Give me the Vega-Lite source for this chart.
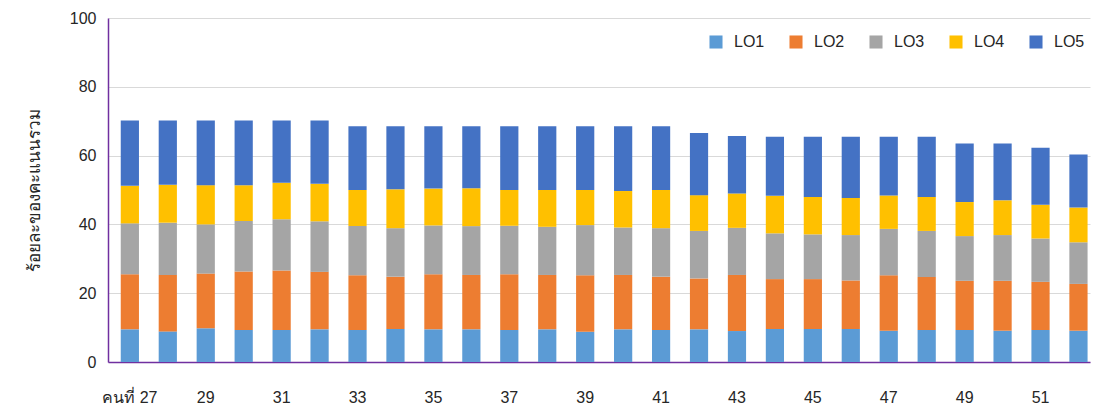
{
  "$schema": "https://vega.github.io/schema/vega-lite/v6.json",
  "autosize": {"type": "none"},
  "width": 982,
  "height": 344,
  "padding": {"left": 108, "top": 18, "right": 15, "bottom": 50},
  "background": "white",
  "data": {"values": [
    {"p": 27, "LO1": 9.5, "LO2": 16.0, "LO3": 14.8, "LO4": 10.9, "LO5": 19.0},
    {"p": 28, "LO1": 8.9, "LO2": 16.4, "LO3": 15.2, "LO4": 11.0, "LO5": 18.7},
    {"p": 29, "LO1": 9.8, "LO2": 15.9, "LO3": 14.3, "LO4": 11.4, "LO5": 18.8},
    {"p": 30, "LO1": 9.3, "LO2": 17.0, "LO3": 14.7, "LO4": 10.4, "LO5": 18.8},
    {"p": 31, "LO1": 9.3, "LO2": 17.3, "LO3": 14.9, "LO4": 10.6, "LO5": 18.1},
    {"p": 32, "LO1": 9.5, "LO2": 16.7, "LO3": 14.7, "LO4": 10.9, "LO5": 18.4},
    {"p": 33, "LO1": 9.3, "LO2": 15.9, "LO3": 14.3, "LO4": 10.5, "LO5": 18.5},
    {"p": 34, "LO1": 9.6, "LO2": 15.2, "LO3": 14.1, "LO4": 11.3, "LO5": 18.3},
    {"p": 35, "LO1": 9.5, "LO2": 16.0, "LO3": 14.2, "LO4": 10.7, "LO5": 18.1},
    {"p": 36, "LO1": 9.5, "LO2": 15.8, "LO3": 14.2, "LO4": 11.0, "LO5": 18.0},
    {"p": 37, "LO1": 9.3, "LO2": 16.2, "LO3": 14.1, "LO4": 10.4, "LO5": 18.5},
    {"p": 38, "LO1": 9.5, "LO2": 15.8, "LO3": 14.0, "LO4": 10.7, "LO5": 18.5},
    {"p": 39, "LO1": 8.8, "LO2": 16.4, "LO3": 14.6, "LO4": 10.2, "LO5": 18.5},
    {"p": 40, "LO1": 9.5, "LO2": 15.8, "LO3": 13.8, "LO4": 10.6, "LO5": 18.8},
    {"p": 41, "LO1": 9.3, "LO2": 15.5, "LO3": 14.1, "LO4": 11.1, "LO5": 18.5},
    {"p": 42, "LO1": 9.5, "LO2": 14.8, "LO3": 13.8, "LO4": 10.4, "LO5": 18.1},
    {"p": 43, "LO1": 9.0, "LO2": 16.3, "LO3": 13.7, "LO4": 10.0, "LO5": 16.7},
    {"p": 44, "LO1": 9.6, "LO2": 14.5, "LO3": 13.3, "LO4": 10.9, "LO5": 17.2},
    {"p": 45, "LO1": 9.6, "LO2": 14.5, "LO3": 13.0, "LO4": 10.9, "LO5": 17.5},
    {"p": 46, "LO1": 9.6, "LO2": 14.1, "LO3": 13.2, "LO4": 10.8, "LO5": 17.8},
    {"p": 47, "LO1": 9.1, "LO2": 16.1, "LO3": 13.5, "LO4": 9.7, "LO5": 17.1},
    {"p": 48, "LO1": 9.3, "LO2": 15.4, "LO3": 13.4, "LO4": 9.9, "LO5": 17.5},
    {"p": 49, "LO1": 9.3, "LO2": 14.3, "LO3": 13.0, "LO4": 9.9, "LO5": 17.0},
    {"p": 50, "LO1": 9.1, "LO2": 14.5, "LO3": 13.3, "LO4": 10.1, "LO5": 16.5},
    {"p": 51, "LO1": 9.3, "LO2": 14.0, "LO3": 12.6, "LO4": 9.8, "LO5": 16.6},
    {"p": 52, "LO1": 9.1, "LO2": 13.6, "LO3": 12.1, "LO4": 10.1, "LO5": 15.4}
  ]},
  "transform": [
    {"fold": ["LO1", "LO2", "LO3", "LO4", "LO5"], "as": ["lo", "v"]}
  ],
  "mark": {"type": "bar"},
  "encoding": {
    "x": {
      "field": "p", "type": "ordinal",
      "scale": {"paddingInner": 0.52, "paddingOuter": 0.2, "align": 0.84},
      "axis": {
        "title": null, "labelAngle": 0, "ticks": false,
        "domainColor": "#7030A0", "domainWidth": 1.5,
        "labelPadding": 27, "labelFontSize": 16, "labelColor": "#262626",
        "labelFont": "Liberation Sans Narrow, Liberation Sans",
        "labelExpr": "datum.value == 27 ? 'คนที่ 27' : (datum.value % 2 == 1 ? datum.label : '')"
      }
    },
    "y": {
      "field": "v", "type": "quantitative", "stack": "zero",
      "scale": {"domain": [0, 100], "nice": false},
      "axis": {
        "title": "ร้อยละของคะแนนรวม", "titleFontSize": 17, "titleFontWeight": "normal",
        "titleColor": "#262626", "titlePadding": 26,
        "values": [0, 20, 40, 60, 80, 100], "ticks": false,
        "labelPadding": 12, "labelFontSize": 16, "labelColor": "#262626",
        "labelFont": "Liberation Sans",
        "domainColor": "#7030A0", "domainWidth": 1.5,
        "gridColor": "#D9D9D9", "gridWidth": 1
      }
    },
    "color": {
      "field": "lo", "type": "nominal",
      "scale": {
        "domain": ["LO1", "LO2", "LO3", "LO4", "LO5"],
        "range": ["#5B9BD5", "#ED7D31", "#A5A5A5", "#FFC000", "#4472C4"]
      },
      "legend": {
        "title": null, "orient": "none", "direction": "horizontal",
        "legendX": 600, "legendY": 16,
        "symbolType": "square", "symbolSize": 170, "symbolStrokeWidth": 0,
        "labelFontSize": 16, "labelColor": "#262626", "labelFont": "Liberation Sans",
        "columnPadding": 23, "labelOffset": 10
      }
    },
    "order": {"field": "lo", "sort": "ascending"}
  },
  "config": {"view": {"stroke": null}}
}
